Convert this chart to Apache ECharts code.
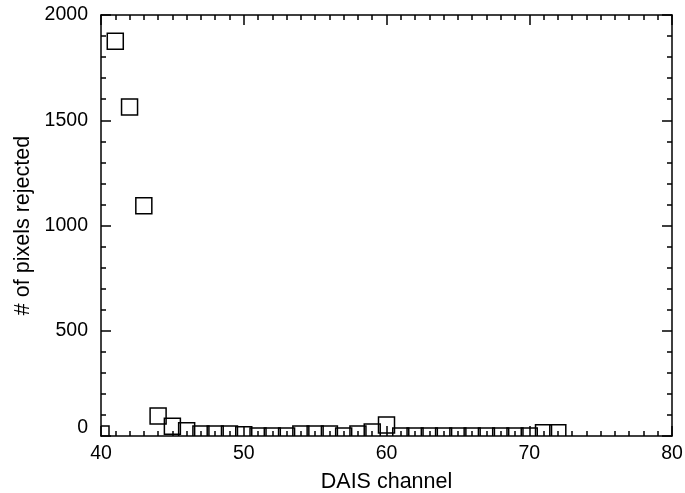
<!DOCTYPE html>
<html lang="en">
<head>
    <meta charset="UTF-8">
    <title>DAIS channel rejects</title>
    <style>
        body{ margin: 0; background: #fff; }
        #main{ width: 685px; height: 493px; }
    </style>
</head>
<body>
<div id="main"></div>
<script src="https://cdn.jsdelivr.net/npm/echarts@6/dist/echarts.min.js"></script>
<script>
    const myChart = echarts.init(document.getElementById('main'));

    // DAIS channel numbers
    const channels = [40, 41, 42, 43, 44, 45, 46, 47, 48, 49, 50, 51, 52, 53, 54, 55, 56,
        57, 58, 59, 60, 61, 62, 63, 64, 65, 66, 67, 68, 69, 70, 71, 72];
    // # of pixels rejected per channel
    const rejected = [10, 1875, 1563, 1094, 95, 46, 25, 10, 10, 10, 6, 0, 0, 0, 10, 10, 10,
        0, 10, 19, 52, 0, 0, 0, 0, 0, 0, 0, 0, 0, 0, 15, 15];

    const xTicks = [40, 50, 60, 70, 80];
    const yTicks = [0, 500, 1000, 1500, 2000];

    const font = 'Liberation Sans, Arial, sans-serif';
    const black = '#000';

    // fresh frame pieces for each side (ticks point into the plot)
    function line() {
        return {show: true, onZero: false, lineStyle: {color: black, width: 1.5}};
    }
    function tick() {
        return {show: true, inside: true, length: 10, lineStyle: {color: black, width: 1.5}};
    }
    function minor(n) {
        return {show: true, splitNumber: n, length: 5, lineStyle: {color: black, width: 1.5}};
    }

    const option = {
        animation: false,
        grid: {left: 101, right: 13, top: 15, bottom: 57, outerBoundsMode: 'none', containLabel: false},
        xAxis: [{
            type: 'value', min: xTicks[0], max: xTicks[xTicks.length - 1], interval: 10,
            position: 'bottom', z: 10,
            axisLine: line(), axisTick: tick(), minorTick: minor(10),
            splitLine: {show: false},
            axisLabel: {color: black, fontSize: 19.5, fontFamily: font, margin: 8},
            name: 'DAIS channel', nameLocation: 'middle', nameGap: 35,
            nameTextStyle: {color: black, fontSize: 21.5, fontFamily: font}
        }, {
            type: 'value', min: xTicks[0], max: xTicks[xTicks.length - 1], interval: 10,
            position: 'top', z: 10,
            axisLine: line(), axisTick: tick(), minorTick: minor(10),
            splitLine: {show: false}, axisLabel: {show: false}
        }],
        yAxis: [{
            type: 'value', min: yTicks[0], max: yTicks[yTicks.length - 1], interval: 500,
            position: 'left', z: 10,
            axisLine: line(), axisTick: tick(), minorTick: minor(5),
            splitLine: {show: false},
            axisLabel: {
                color: black, fontSize: 19.5, fontFamily: font, margin: 13,
                formatter: (v) => v === 0 ? '{z|0}' : String(v),
                rich: {z: {fontSize: 19.5, fontFamily: font, color: black, padding: [0, 0, 16, 0]}}
            },
            name: '# of pixels rejected', nameLocation: 'middle', nameGap: 67,
            nameTextStyle: {color: black, fontSize: 21.5, fontFamily: font}
        }, {
            type: 'value', min: yTicks[0], max: yTicks[yTicks.length - 1], interval: 500,
            position: 'right', z: 10,
            axisLine: line(), axisTick: tick(), minorTick: minor(5),
            splitLine: {show: false}, axisLabel: {show: false}
        }],
        series: [{
            type: 'custom',
            clip: true,
            xAxisIndex: 0,
            yAxisIndex: 0,
            data: channels.map((c, i) => [c, rejected[i]]),
            renderItem: function (params, api) {
                const p = api.coord([api.value(0), api.value(1)]);
                return {
                    type: 'rect',
                    shape: {x: p[0] - 8, y: p[1] - 8, width: 16, height: 16},
                    style: {fill: 'none', stroke: black, lineWidth: 1.5}
                };
            }
        }]
    };

    myChart.setOption(option);
</script>
</body>
</html>
